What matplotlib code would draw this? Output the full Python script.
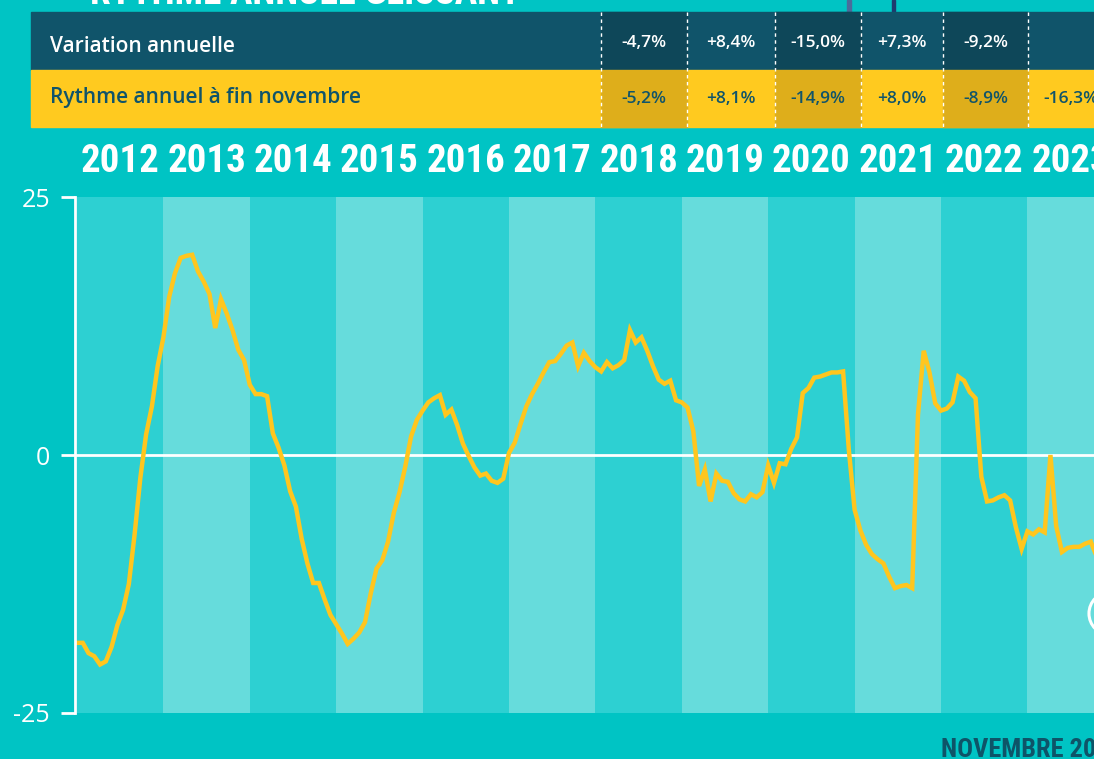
import numpy as np
import matplotlib.pyplot as plt
import matplotlib.transforms as mtransforms
from matplotlib.patches import Rectangle
from matplotlib import font_manager

# DATA ########################################################################

years = [2012, 2013, 2014, 2015, 2016, 2017, 2018, 2019, 2020, 2021, 2022, 2023]
points_per_year = 15

values = [
    -18.2, -18.2, -19.2, -19.5, -20.3, -20.0, -18.6, -16.5, -15.0, -12.5,
    -7.7, -2.2, 2.0, 4.7, 8.6, 11.4, 15.3, 17.6, 19.1, 19.3,
    19.4, 17.8, 16.8, 15.6, 12.3, 15.1, 13.7, 12.1, 10.2, 9.2,
    6.8, 5.9, 5.9, 5.7, 2.1, 0.7, -1.0, -3.5, -5.0, -8.1,
    -10.5, -12.4, -12.4, -14.0, -15.5, -16.4, -17.3, -18.3, -17.8, -17.2,
    -16.2, -13.4, -11.0, -10.2, -8.4, -5.6, -3.6, -1.1, 1.8, 3.4,
    4.3, 5.1, 5.5, 5.8, 3.9, 4.4, 2.9, 1.1, -0.1, -1.2,
    -2.0, -1.8, -2.5, -2.7, -2.3, 0.2, 1.2, 3.0, 4.7, 5.9,
    6.9, 8.0, 9.0, 9.1, 9.8, 10.6, 10.9, 8.6, 9.9, 9.1,
    8.5, 8.1, 9.0, 8.4, 8.7, 9.2, 12.1, 10.9, 11.4, 10.1,
    8.6, 7.3, 6.9, 7.2, 5.3, 5.1, 4.6, 2.3, -3.0, -1.4,
    -4.5, -1.8, -2.5, -2.6, -3.7, -4.3, -4.5, -3.8, -4.1, -3.6,
    -1.0, -2.7, -0.8, -0.9, 0.6, 1.7, 6.0, 6.5, 7.5, 7.6,
    7.8, 8.0, 8.0, 8.1, 0.5, -5.3, -7.3, -8.7, -9.6, -10.1,
    -10.5, -11.8, -12.9, -12.7, -12.6, -12.9, 3.9, 10.1, 8.0, 5.0,
    4.3, 4.5, 5.1, 7.6, 7.2, 6.1, 5.5, -2.1, -4.5, -4.4,
    -4.1, -3.9, -4.4, -7.0, -9.1, -7.4, -7.7, -7.2, -7.5, 0.0,
    -6.9, -9.4, -9.0, -8.9, -8.9, -8.6, -8.4, -9.8,
]

row_labels = ["Variation annuelle", "Rythme annuel à fin novembre"]
variation = ["-4,7%", "+8,4%", "-15,0%", "+7,3%", "-9,2%", ""]
rythme = ["-5,2%", "+8,1%", "-14,9%", "+8,0%", "-8,9%", "-16,3%"]

last_marker = (179.3, -15.3)

# STYLE #######################################################################

W, H = 1094, 759
BG = "#00C4C4"
BAND_DARK = "#2DD0D2"
BAND_LIGHT = "#66DCDC"
NAVY = "#10546A"
NAVY_DARK = "#0E4759"
YELLOW = "#FFCA1F"
YELLOW_DARK = "#DEAE1B"
LINE = "#FFC61E"

plt.rcParams['font.family'] = ['Open Sans', 'DejaVu Sans']

# pick the narrowest condensed face that is installed
installed = {f.name for f in font_manager.fontManager.ttflist}
narrow_name = None
for cand in ["Roboto Condensed", "Liberation Sans Narrow", "Open Sans Condensed",
             "DejaVu Sans Condensed"]:
    if cand in installed:
        narrow_name = cand
        break

if narrow_name:
    narrow = dict(family=[narrow_name, 'DejaVu Sans'], fontstretch="condensed")
    year_size = 28
else:
    narrow = dict(family=['Roboto', 'DejaVu Sans'])
    year_size = 22

def fx(x):
    return x / W

def fy(y):
    return 1 - y / H

fig = plt.figure(figsize=(W / 100, H / 100), dpi=100, facecolor=BG)

# TABLE #######################################################################

fig.text(fx(305), fy(4), "RYTHME ANNUEL GLISSANT", color="white", fontsize=27,
         fontweight="bold", ha="center", va="baseline", **narrow)

fig.patches.append(Rectangle((fx(847), fy(12)), fx(4), 12 / H, color="#4A6C9B",
                             transform=fig.transFigure))
fig.patches.append(Rectangle((fx(892), fy(12)), fx(3), 12 / H, color="#1E3A6E",
                             transform=fig.transFigure))

fig.patches.append(Rectangle((fx(31), fy(70)), fx(W - 31), 58 / H, color=NAVY,
                             transform=fig.transFigure))
fig.patches.append(Rectangle((fx(31), fy(127)), fx(W - 31), 57 / H, color=YELLOW,
                             transform=fig.transFigure))

col_edges = [601, 687, 775, 861, 943, 1028, 1114]
for i in range(len(rythme)):
    x0, x1 = col_edges[i], col_edges[i + 1]
    if i % 2 == 0:
        fig.patches.append(Rectangle((fx(x0), fy(70)), fx(x1 - x0), 58 / H,
                                     color=NAVY_DARK, transform=fig.transFigure))
        fig.patches.append(Rectangle((fx(x0), fy(127)), fx(x1 - x0), 57 / H,
                                     color=YELLOW_DARK, transform=fig.transFigure))
    xc = (x0 + x1) / 2
    fig.text(fx(xc), fy(43), variation[i], color="white", fontsize=12.5,
             fontweight="semibold", ha="center", va="center")
    fig.text(fx(xc), fy(99), rythme[i], color=NAVY, fontsize=12.5,
             fontweight="semibold", ha="center", va="center")

for x in col_edges[:-1]:
    fig.add_artist(plt.Line2D([fx(x), fx(x)], [fy(12), fy(127)], color="white",
                              lw=1, ls=(0, (2.5, 2.5)), transform=fig.transFigure))

fig.text(fx(50), fy(46), row_labels[0], color="white", fontsize=15,
         fontweight="semibold", va="center")
fig.text(fx(50), fy(98), row_labels[1], color=NAVY, fontsize=15,
         fontweight="semibold", va="center")

# CHART #######################################################################

ax = fig.add_axes([fx(75), fy(713), fx(W - 75), (713 - 197) / H])
ax.set_facecolor("none")

for i, yr in enumerate(years):
    ax.axvspan(i * points_per_year, (i + 1) * points_per_year, lw=0,
               color=BAND_DARK if i % 2 == 0 else BAND_LIGHT)

ax.axhline(0, color="white", lw=2)

x = np.arange(len(values))
ax.plot(x, values, color=LINE, lw=3.2, solid_joinstyle="miter")
ax.plot([last_marker[0]], [last_marker[1]], "o", ms=31, mfc="none",
        mec="white", mew=2.2)

ax.set_xlim(-2 / 5.76, (W - 77) / 5.76)
ax.set_ylim(-25, 25)

for s in ["top", "right", "bottom"]:
    ax.spines[s].set_visible(False)
ax.spines["left"].set_color("white")
ax.spines["left"].set_linewidth(2)
ax.set_xticks([])
ax.set_yticks([-25, 0, 25])
ax.set_yticklabels(["-25", "0", "25"])
ax.tick_params(axis="y", colors="white", length=10, width=2, pad=8,
               labelsize=18)

yr_trans = mtransforms.blended_transform_factory(ax.transData, fig.transFigure)
for i, yr in enumerate(years):
    ax.text(i * points_per_year + points_per_year / 2, fy(162), str(yr),
            transform=yr_trans, color="white", fontsize=year_size,
            fontweight="bold", ha="center", va="center", clip_on=False, **narrow)

fig.text(fx(941), fy(750), "NOVEMBRE 2023", color="#0E5468", fontsize=19,
         fontweight="bold", ha="left", va="center", **narrow)

plt.savefig("out.png", dpi=100, facecolor=BG)
